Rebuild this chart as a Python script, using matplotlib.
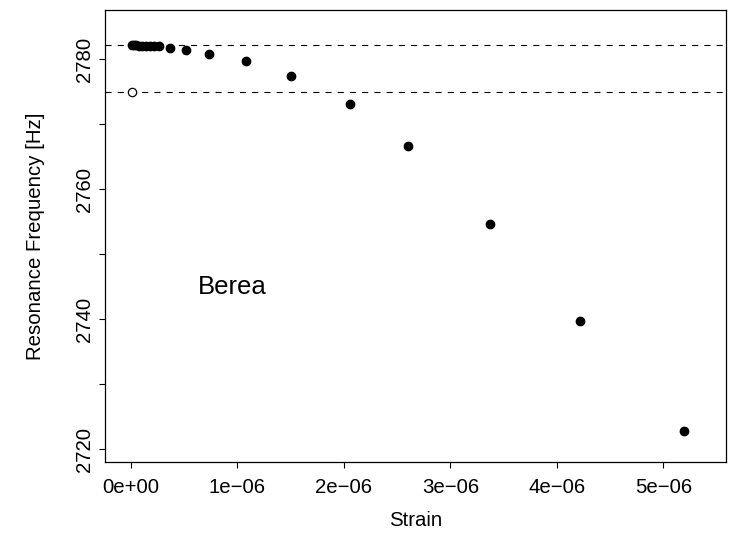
import matplotlib
matplotlib.use("Agg")
import matplotlib.pyplot as plt
import numpy as np

plt.rcParams['font.family'] = ['Liberation Sans', 'DejaVu Sans']

# Berea sandstone: resonance frequency vs strain amplitude
strain = [0.01e-6, 0.03e-6, 0.05e-6, 0.08e-6, 0.11e-6, 0.14e-6, 0.18e-6, 0.22e-6,
          0.266e-6, 0.369e-6, 0.519e-6, 0.732e-6, 1.085e-6, 1.505e-6, 2.059e-6,
          2.607e-6, 3.371e-6, 4.216e-6, 5.192e-6]
freq = [2782.2, 2782.2, 2782.2, 2782.1, 2782.1, 2782.1, 2782.1, 2782.0,
        2782.0, 2781.7, 2781.4, 2780.8, 2779.7, 2777.4, 2773.1,
        2766.6, 2754.7, 2739.8, 2722.8]
# recovered value (open symbol)
open_strain = [0.015e-6]
open_freq = [2775.0]
# reference levels
ref_levels = [2782.2, 2775.0]

xticks = [0, 1e-6, 2e-6, 3e-6, 4e-6, 5e-6]
xticklabels = ["0e+00", "1e\u221206", "2e\u221206", "3e\u221206", "4e\u221206", "5e\u221206"]
yticks = [2720, 2730, 2740, 2750, 2760, 2770, 2780]
yticklabels = ["2720", "", "2740", "", "2760", "", "2780"]

fig = plt.figure(figsize=(7.29, 5.33), dpi=100)
ax = fig.add_axes([0.1447, 0.1326, 0.8515, 0.8487])

for lv in ref_levels:
    ax.axhline(lv, color='black', lw=0.8, linestyle=(0, (5.5, 5.5)), zorder=1)

ax.plot(strain, freq, 'o', color='black', ms=6, zorder=3)
ax.plot(open_strain, open_freq, 'o', mfc='white', mec='black', mew=0.9, ms=6, zorder=3)

ax.text(0.955e-6, 2745.0, "Berea", fontsize=18.5, ha='center', va='center')

ax.set_xlim(-0.237e-6, 5.59e-6)
ax.set_ylim(2718.0, 2787.6)

ax.set_xticks(xticks)
ax.set_xticklabels(xticklabels)
ax.set_yticks(yticks)
ax.set_yticklabels(yticklabels, rotation=90, va='center')
ax.tick_params(direction='out', length=4.5, width=0.8, labelsize=14.7)
ax.tick_params(axis='x', pad=7)
ax.tick_params(axis='y', pad=3.5)

for s in ax.spines.values():
    s.set_linewidth(0.9)

ax.set_xlabel("Strain", fontsize=14.7, labelpad=10)
ax.set_ylabel("Resonance Frequency [Hz]", fontsize=14.7, labelpad=22)

fig.savefig("out.png", dpi=100)
